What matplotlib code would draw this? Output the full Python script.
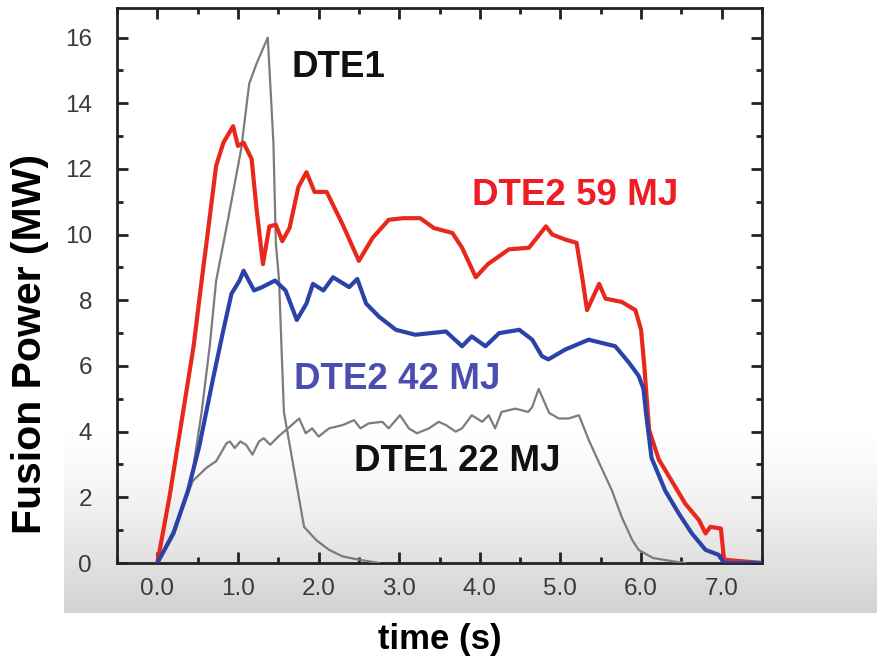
import numpy as np
import matplotlib
matplotlib.use("Agg")
import matplotlib.pyplot as plt
from matplotlib.colors import LinearSegmentedColormap

plt.rcParams['font.family'] = ['Liberation Sans', 'DejaVu Sans']

# ---- data ----
dte1_t = [0.0, 0.2, 0.42, 0.55, 0.65, 0.73, 0.88, 1.04, 1.14, 1.23, 1.37, 1.44, 1.47,
          1.51, 1.57, 1.72, 1.82, 1.97, 2.13, 2.3, 2.5, 2.75]
dte1_p = [0.0, 1.0, 2.5, 4.6, 6.6, 8.6, 10.5, 12.6, 14.6, 15.2, 16.0, 12.8, 9.75,
          8.6, 4.6, 2.5, 1.1, 0.7, 0.4, 0.2, 0.1, 0.0]

dte1b_t = [0.0, 0.2, 0.44, 0.61, 0.73, 0.86, 0.9, 0.96, 1.03, 1.1, 1.18, 1.26, 1.32, 1.4,
           1.5, 1.62, 1.76, 1.84, 1.92, 2.0, 2.13, 2.3, 2.44, 2.52, 2.62, 2.79, 2.87, 3.01,
           3.12, 3.22, 3.37, 3.49, 3.58, 3.7, 3.78, 3.9, 4.03, 4.11, 4.19, 4.27, 4.44, 4.6,
           4.65, 4.73, 4.86, 4.98, 5.1, 5.23, 5.35, 5.48, 5.64, 5.76, 5.89, 5.97, 6.15,
           6.4, 6.55]
dte1b_p = [0.0, 0.9, 2.5, 2.9, 3.1, 3.65, 3.7, 3.5, 3.7, 3.6, 3.3, 3.7, 3.8, 3.6,
           3.85, 4.1, 4.4, 3.95, 4.1, 3.85, 4.1, 4.2, 4.35, 4.1, 4.25, 4.3, 4.1, 4.5,
           4.1, 3.95, 4.1, 4.3, 4.2, 4.0, 4.1, 4.5, 4.3, 4.5, 4.1, 4.6, 4.7, 4.6,
           4.75, 5.3, 4.57, 4.4, 4.4, 4.5, 3.75, 3.05, 2.2, 1.4, 0.7, 0.4, 0.15,
           0.05, 0.0]

dte2_59_t = [0.0, 0.15, 0.32, 0.45, 0.55, 0.61, 0.73, 0.82, 0.94, 1.0, 1.07, 1.17, 1.23,
             1.31, 1.39, 1.47, 1.55, 1.64, 1.75, 1.85, 1.95, 2.1, 2.2, 2.3, 2.5, 2.67,
             2.87, 3.05, 3.26, 3.43, 3.66, 3.78, 3.95, 4.1, 4.36, 4.61, 4.82, 4.9, 5.06,
             5.2, 5.27, 5.33, 5.48, 5.56, 5.76, 5.93, 6.0, 6.04, 6.1, 6.22, 6.38, 6.55,
             6.72, 6.8, 6.86, 6.99, 7.03, 7.5]
dte2_59_p = [0.0, 2.0, 4.6, 6.6, 8.6, 9.75, 12.1, 12.8, 13.3, 12.7, 12.8, 12.3, 10.8,
             9.1, 10.25, 10.3, 9.8, 10.2, 11.45, 11.9, 11.3, 11.3, 10.8, 10.3, 9.2, 9.9,
             10.45, 10.5, 10.5, 10.2, 10.05, 9.6, 8.7, 9.1, 9.55, 9.6, 10.25, 10.0, 9.85,
             9.75, 8.7, 7.7, 8.5, 8.05, 7.95, 7.7, 7.1, 6.0, 4.05, 3.15, 2.5, 1.8,
             1.3, 0.9, 1.1, 1.05, 0.1, 0.0]

dte2_42_t = [0.0, 0.2, 0.38, 0.52, 0.69, 0.82, 0.92, 1.02, 1.07, 1.2, 1.3, 1.46, 1.59,
             1.73, 1.85, 1.93, 2.06, 2.18, 2.38, 2.48, 2.59, 2.75, 2.96, 3.2, 3.58, 3.78,
             3.9, 4.07, 4.24, 4.49, 4.65, 4.77, 4.85, 5.06, 5.35, 5.68, 5.85, 5.97, 6.03,
             6.06, 6.13, 6.3, 6.47, 6.63, 6.8, 6.96, 7.03, 7.5]
dte2_42_p = [0.0, 0.9, 2.2, 3.55, 5.6, 7.1, 8.2, 8.6, 8.9, 8.3, 8.4, 8.6, 8.3,
             7.4, 7.9, 8.5, 8.3, 8.7, 8.4, 8.65, 7.9, 7.5, 7.1, 6.95, 7.05, 6.6,
             6.9, 6.6, 7.0, 7.1, 6.8, 6.3, 6.2, 6.5, 6.8, 6.6, 6.1, 5.7, 5.3,
             4.6, 3.2, 2.2, 1.5, 0.9, 0.4, 0.25, 0.0, 0.0]

x_ticks = [0, 1, 2, 3, 4, 5, 6, 7]
x_ticklabels = ["0.0", "1.0", "2.0", "3.0", "4.0", "5.0", "6.0", "7.0"]
y_ticks = [0, 2, 4, 6, 8, 10, 12, 14, 16]

W, H = 877, 665
fig = plt.figure(figsize=(W / 100, H / 100), dpi=100)

# gray gradient band behind the lower part
bg = fig.add_axes([64 / W, (H - 613) / H, (W - 64) / W, (613 - 430) / H], zorder=-10)
grad = np.linspace(0, 1, 256).reshape(-1, 1) ** 1.3
cmap = LinearSegmentedColormap.from_list("g", ["#ffffff", "#d2d2d2"])
bg.imshow(grad, aspect='auto', cmap=cmap, origin='upper', extent=[0, 1, 0, 1])
bg.set_axis_off()

ax = fig.add_axes([117 / W, (H - 563) / H, (762 - 117) / W, (563 - 8) / H])
ax.set_facecolor('none')

gray = "#7c7c7c"
ax.plot(dte1_t, dte1_p, color=gray, lw=1.6, zorder=3)
ax.plot(dte1b_t, dte1b_p, color=gray, lw=1.6, zorder=3)
ax.plot(dte2_59_t, dte2_59_p, color="#e8281c", lw=3.0, zorder=4)
ax.plot(dte2_42_t, dte2_42_p, color="#2b43a8", lw=3.0, zorder=5)

ax.set_xlim(-0.5, 7.5)
ax.set_ylim(0, 16.9)
ax.set_xticks(x_ticks)
ax.set_xticklabels(x_ticklabels)
ax.set_yticks(y_ticks)
ax.set_xticks(np.arange(-0.5, 7.51, 0.5), minor=True)
ax.set_yticks(np.arange(0, 17, 1), minor=True)

ax.tick_params(which='both', direction='in', top=True, right=True, width=2,
               color="#222222", labelcolor="#3a3a3a", labelsize=17.5)
ax.tick_params(which='major', length=8)
ax.tick_params(which='minor', length=4)
ax.tick_params(axis='y', which='major', pad=18)
ax.tick_params(axis='x', which='major', pad=11)
for s in ax.spines.values():
    s.set_linewidth(2)
    s.set_color("#222222")

ax.set_ylabel("Fusion Power (MW)", fontsize=29.5, fontweight='bold')
ax.yaxis.set_label_coords(-0.105, 0.395)
ax.set_xlabel("time (s)", fontsize=25, fontweight='bold', labelpad=16)

ax.text(1.66, 15.1, "DTE1", fontsize=26.5, fontweight='bold', color="#111111",
        ha='left', va='center')
ax.text(3.90, 11.2, "DTE2 59 MJ", fontsize=26.5, fontweight='bold', color="#ee1c24",
        ha='left', va='center')
ax.text(1.70, 5.58, "DTE2 42 MJ", fontsize=26.5, fontweight='bold', color="#4a4eae",
        ha='left', va='center')
ax.text(2.44, 3.08, "DTE1 22 MJ", fontsize=26.5, fontweight='bold', color="#111111",
        ha='left', va='center')

fig.savefig("out.png", dpi=100)
